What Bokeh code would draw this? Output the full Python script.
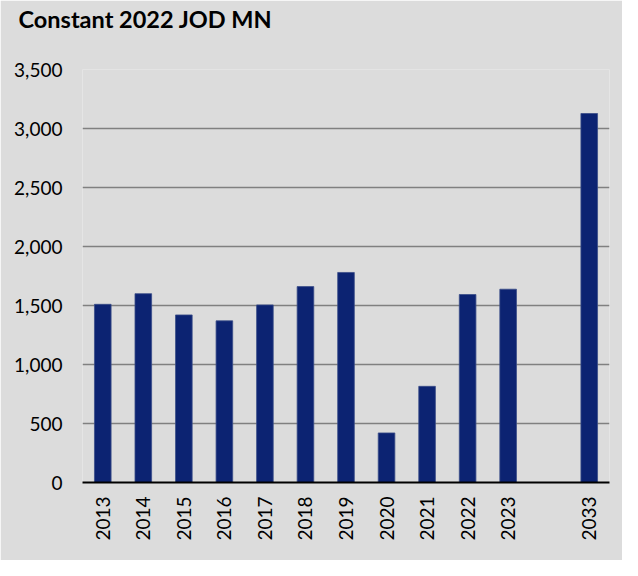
import math
from bokeh.plotting import figure
from bokeh.models import FixedTicker, NumeralTickFormatter, Range1d, ColumnDataSource, Title
from bokeh.embed import file_html
from bokeh.resources import INLINE

years = ["2013", "2014", "2015", "2016", "2017", "2018", "2019", "2020", "2021", "2022", "2023", "2033"]
positions = [0, 1, 2, 3, 4, 5, 6, 7, 8, 9, 10, 12]
values = [1510, 1600, 1420, 1370, 1505, 1660, 1780, 420, 815, 1593, 1638, 3127]
y_ticks = [0, 500, 1000, 1500, 2000, 2500, 3000, 3500]
title_text = "Constant 2022 JOD MN"

BG = "#dcdcdc"
BAR = "#0c2372"

src = ColumnDataSource(dict(x=positions, top=values))

p = figure(width=622, height=560, output_backend="svg", toolbar_location=None, title=None,
           x_range=Range1d(-0.5, 12.5), y_range=Range1d(0, 3500),
           min_border_left=82, min_border_right=13, min_border_top=69, min_border_bottom=78)
p.background_fill_color = BG
p.border_fill_color = BG
p.outline_line_color = None

p.vbar(x="x", top="top", width=0.41, bottom=0, source=src,
       fill_color=BAR, line_color="#3a4c88", line_width=0.8)

# spacer panel between the title and the plot area
spacer = Title(text=" ", text_font_size="1px", standoff=28)
p.add_layout(spacer, "above")

main_title = Title(text=title_text, text_font="Lato", text_font_style="bold",
                   text_font_size="23.5px", text_color="#000000", align="left",
                   vertical_align="top", offset=-64, standoff=8)
p.add_layout(main_title, "above")

# y axis
p.yaxis.ticker = FixedTicker(ticks=y_ticks)
p.yaxis.formatter = NumeralTickFormatter(format="0,0")
p.yaxis.axis_line_color = None
p.yaxis.major_tick_line_color = None
p.yaxis.minor_tick_line_color = None
p.yaxis.major_tick_out = 0
p.yaxis.major_label_standoff = 20
p.yaxis.major_label_text_font = "Lato"
p.yaxis.major_label_text_font_size = "19px"
p.yaxis.major_label_text_color = "#000000"

# x axis
p.xaxis.ticker = FixedTicker(ticks=positions)
p.xaxis.major_label_overrides = {pos: lab for pos, lab in zip(positions, years)}
p.xaxis.major_label_orientation = math.pi / 2
p.xaxis.axis_line_color = "#000000"
p.xaxis.axis_line_width = 2
p.xaxis.major_tick_line_color = None
p.xaxis.minor_tick_line_color = None
p.xaxis.major_tick_out = 0
p.xaxis.major_label_standoff = 14
p.xaxis.major_label_text_font = "Lato"
p.xaxis.major_label_text_font_size = "19px"
p.xaxis.major_label_text_color = "#000000"

p.xgrid.grid_line_color = None
p.ygrid.ticker = FixedTicker(ticks=y_ticks[1:])
p.ygrid.grid_line_color = "#808080"
p.ygrid.grid_line_width = 1.3

open("out.html", "w").write(file_html(p, INLINE))
